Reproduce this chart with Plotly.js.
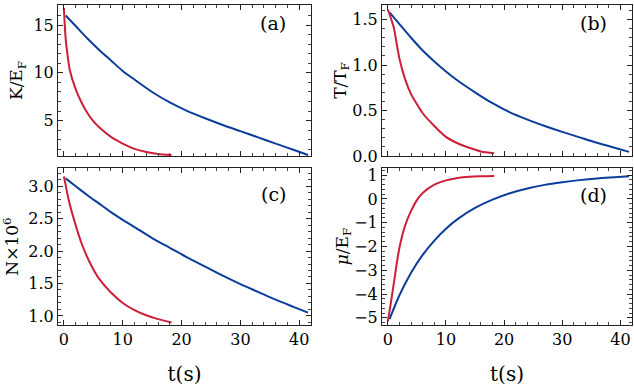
<!DOCTYPE html>
<html>
<head>
<meta charset="utf-8">
<script src="https://cdn.plot.ly/plotly-3.0.1.min.js"></script>
<style>
  html, body { margin: 0; padding: 0; background: #fff; }
  #plot { width: 634px; height: 388px; }
</style>
</head>
<body>
<div id="plot"></div>
<script>
// time samples (s) for the two runs
let tRed = [0, 0.3, 0.6, 1, 2, 3, 4, 5, 6, 8, 10, 12, 14, 16, 18.3];
let tBlue = [0.3, 2, 4, 6, 8, 10, 12, 15, 18, 21, 24, 27, 30, 33, 36, 39, 41.5];

// (a) K/E_F
let kRed = [16.8, 13.6, 12.0, 10.3, 8.3, 6.9, 5.8, 4.95, 4.3, 3.3, 2.6, 2.05, 1.72, 1.52, 1.4];
let kBlue = [16.0, 14.9, 13.6, 12.4, 11.3, 10.2, 9.3, 8.0, 6.9, 6.0, 5.25, 4.55, 3.9, 3.25, 2.6, 1.95, 1.4];

// (b) T/T_F
let tempRed = [1.61, 1.56, 1.50, 1.42, 1.07, 0.84, 0.68, 0.57, 0.47, 0.33, 0.21, 0.14, 0.09, 0.05, 0.03];
let tempBlue = [1.58, 1.45, 1.30, 1.16, 1.04, 0.93, 0.83, 0.70, 0.58, 0.48, 0.40, 0.33, 0.265, 0.205, 0.145, 0.09, 0.045];

// (c) N x 10^6
let nRed = [3.15, 3.02, 2.88, 2.72, 2.40, 2.12, 1.90, 1.72, 1.57, 1.36, 1.20, 1.09, 1.01, 0.95, 0.90];
let nBlue = [3.12, 3.0, 2.86, 2.73, 2.6, 2.48, 2.37, 2.2, 2.05, 1.9, 1.76, 1.62, 1.49, 1.37, 1.25, 1.14, 1.05];

// (d) mu/E_F
let muRed = [-5.15, -4.7, -4.25, -3.6, -2.05, -1.1, -0.5, -0.05, 0.25, 0.6, 0.78, 0.88, 0.93, 0.95, 0.96];
let muBlue = [-5.05, -4.05, -3.1, -2.35, -1.75, -1.25, -0.85, -0.38, -0.03, 0.24, 0.44, 0.59, 0.7, 0.79, 0.86, 0.91, 0.95];

let panelLabels = ["(a)", "(b)", "(c)", "(d)"];

let red = "#cc1f3a";
let blue = "#0b3d9c";
let fontName = "DejaVu Serif";

function line(x, y, color, xa, ya) {
    return {
        x: x, y: y, xaxis: xa, yaxis: ya,
        type: "scatter", mode: "lines",
        line: {color: color, width: 2, shape: "spline", smoothing: 0.8},
        hoverinfo: "skip", showlegend: false
    };
}

var data = [
    line(tBlue, kBlue, blue, "x", "y"),
    line(tRed, kRed, red, "x", "y"),
    line(tBlue, tempBlue, blue, "x2", "y2"),
    line(tRed, tempRed, red, "x2", "y2"),
    line(tBlue, nBlue, blue, "x3", "y3"),
    line(tRed, nRed, red, "x3", "y3"),
    line(tBlue, muBlue, blue, "x4", "y4"),
    line(tRed, muRed, red, "x4", "y4")
];

// shared frame style (ticks inside on all four sides)
function frame(extra) {
    let base = {
        showline: true, mirror: "allticks", linecolor: "#222", linewidth: 1,
        ticks: "inside", ticklen: 5, tickcolor: "#222", tickwidth: 1,
        showgrid: false, zeroline: false, automargin: false,
        tickfont: {family: fontName, size: 16, color: "#000"}
    };
    return Object.assign(base, extra);
}

function xax(domain, anchor, showLabels) {
    let ax = frame({
        domain: domain, anchor: anchor, range: [-1, 42],
        dtick: 10, tick0: 0, showticklabels: showLabels,
        minor: {ticks: "inside", ticklen: 3, dtick: 2, tickcolor: "#444"}
    });
    if (showLabels) {
        ax.title = {text: "t(s)", font: {family: fontName, size: 20, color: "#000"}, standoff: 18};
    }
    return ax;
}

function yax(domain, anchor, range, dtick, minor, fmt, title, standoff) {
    return frame({
        domain: domain, anchor: anchor, range: range,
        dtick: dtick, tick0: 0, tickformat: fmt,
        minor: {ticks: "inside", ticklen: 3, dtick: minor, tickcolor: "#444"},
        title: {text: title, font: {family: fontName, size: 17, color: "#000"}, standoff: standoff}
    });
}

let colL = [58 / 634, 311 / 634];
let colR = [382 / 634, 632 / 634];
let rowT = [1 - 156 / 388, 1 - 5 / 388];
let rowB = [1 - 325 / 388, 1 - 168 / 388];

var layout = {
    width: 634, height: 388,
    margin: {l: 0, r: 0, t: 0, b: 0},
    paper_bgcolor: "#fff", plot_bgcolor: "#fff",
    xaxis: xax(colL, "y", false),
    yaxis: yax(rowT, "x", [1.3, 17.1], 5, 1, "", "K/E<sub>F</sub>", 6),
    xaxis2: xax(colR, "y2", false),
    yaxis2: yax(rowT, "x2", [0, 1.66], 0.5, 0.1, ".1f", "T/T<sub>F</sub>", 0),
    xaxis3: xax(colL, "y3", true),
    yaxis3: yax(rowB, "x3", [0.86, 3.28], 0.5, 0.1, ".1f", "N×10<sup>6</sup>", 6),
    xaxis4: xax(colR, "y4", true),
    yaxis4: yax(rowB, "x4", [-5.3, 1.3], 1, 0.2, "", "<i>μ</i>/E<sub>F</sub>", 0),
    annotations: [
        {text: panelLabels[0], x: 273 / 634, y: 1 - 23 / 388},
        {text: panelLabels[1], x: 593 / 634, y: 1 - 23 / 388},
        {text: panelLabels[2], x: 273 / 634, y: 1 - 194 / 388},
        {text: panelLabels[3], x: 593 / 634, y: 1 - 195 / 388}
    ].map(a => Object.assign(a, {
        xref: "paper", yref: "paper", showarrow: false,
        xanchor: "center", yanchor: "middle",
        font: {family: fontName, size: 19, color: "#000"}
    }))
};

Plotly.newPlot("plot", data, layout, {staticPlot: true});
</script>
</body>
</html>
